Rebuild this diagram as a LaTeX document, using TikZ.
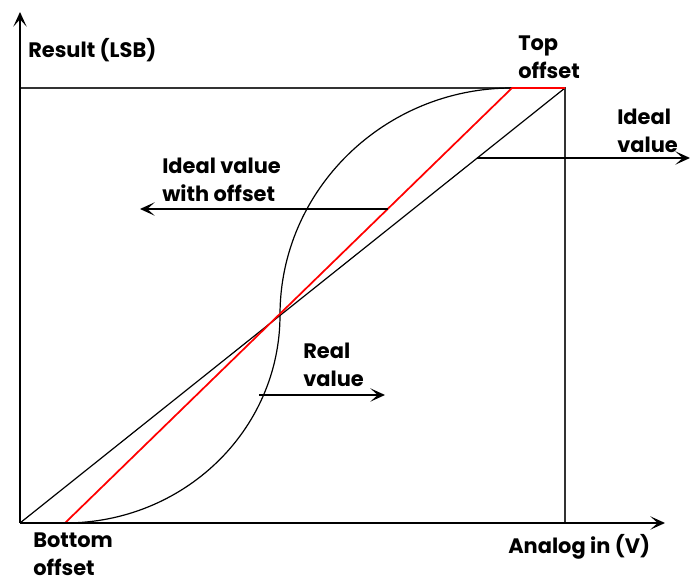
\documentclass[tikz,border=0pt]{standalone}
\usepackage{fontspec}
\setmainfont{Poppins}
\usetikzlibrary{arrows.meta}
\tikzset{>={Stealth[length=11pt,width=10pt,inset=5.5pt]}}
\tikzset{lbl/.style={font=\bfseries\fontsize{15.7}{21}\selectfont, align=left, inner sep=0pt, anchor=west}}
\tikzset{axis/.style={line width=1.8pt,->}}
\tikzset{thin line/.style={line width=0.9pt}}

\begin{document}
\begin{tikzpicture}[x=0.75pt,y=-0.75pt]
    \useasboundingbox (0,0) rectangle (690,584);

    \coordinate (O) at (20,523);
    \coordinate (Ytop) at (20,12);
    \coordinate (Xend) at (665,523);
    \coordinate (TL) at (20,88);
    \coordinate (TR) at (565,88);
    \coordinate (BR) at (565,523);
    \coordinate (Bot) at (65,523);
    \coordinate (Top) at (512,88);
    \coordinate (Mid) at (280,315);

    \node[lbl] (res) at (28,50) {Result (LSB)};
    \node[lbl] (topoff) at (518,57) {Top\\offset};
    \node[lbl] (ideal) at (617,131) {Ideal\\value};
    \node[lbl] (idealoff) at (162,180) {Ideal value\\with offset};
    \node[lbl] (real) at (303,365) {Real\\value};
    \node[lbl] (botoff) at (33,554) {Bottom\\offset};
    \node[lbl] (analog) at (508,547) {Analog in (V)};

    % frame and ideal line
    \draw[thin line, black!80] (TL) -- (TR) -- (BR);
    \draw[thin line] (O) -- (TR);

    % real value curve
    \draw[thin line] (Bot) .. controls (184,523) and (280,430) .. (Mid)
        .. controls (280,190) and (384,88) .. (Top);

    % ideal value with offset
    \draw[line width=1.3pt, red] (O) -- (Bot) -- (Top) -- (TR);

    \draw[axis] (O) -- (Ytop);
    \draw[axis] (O) -- (Xend);

    % pointers
    \coordinate (p1) at (477,158);
    \coordinate (p1e) at (690,158);
    \coordinate (p2) at (388,209);
    \coordinate (p2e) at (140,209);
    \coordinate (p3) at (259,395);
    \coordinate (p3e) at (385,395);
    \draw[axis] (p1) -- (p1e);
    \draw[axis] (p2) -- (p2e);
    \draw[axis] (p3) -- (p3e);
\end{tikzpicture}
\end{document}
